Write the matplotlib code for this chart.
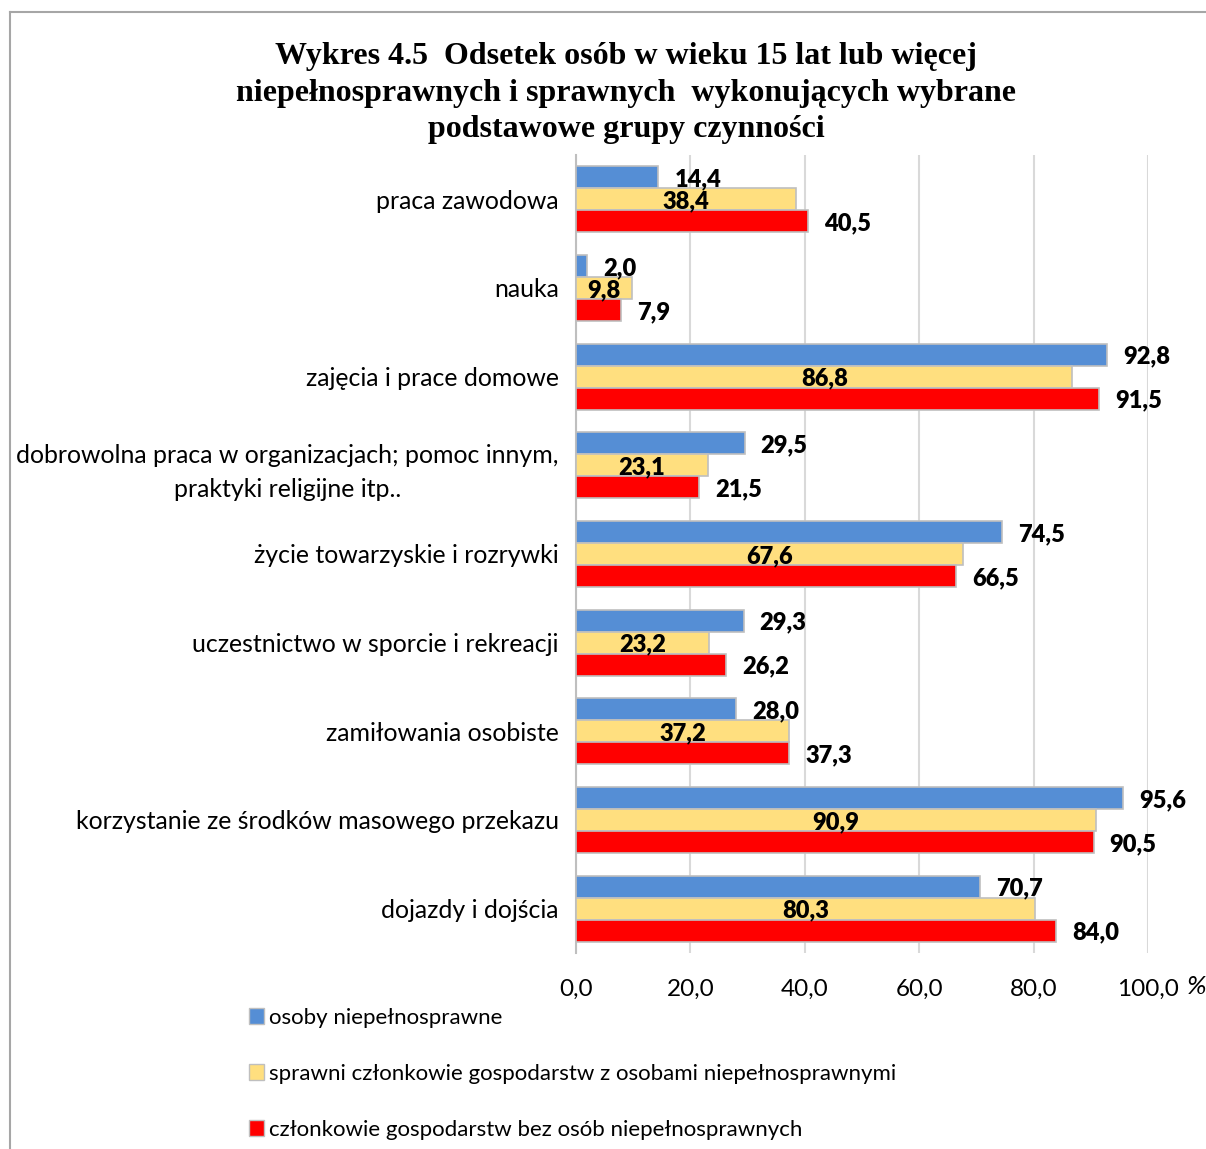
import matplotlib
matplotlib.use("Agg")
import matplotlib.pyplot as plt
import numpy as np
from matplotlib.lines import Line2D
from matplotlib.patches import Patch

categories = [
    "praca zawodowa",
    "nauka",
    "zajęcia i prace domowe",
    "dobrowolna praca w organizacjach; pomoc innym,\npraktyki religijne itp..",
    "życie towarzyskie i rozrywki",
    "uczestnictwo w sporcie i rekreacji",
    "zamiłowania osobiste",
    "korzystanie ze środków masowego przekazu",
    "dojazdy i dojścia",
]
niepelnosprawne = [14.4, 2.0, 92.8, 29.5, 74.5, 29.3, 28.0, 95.6, 70.7]
sprawni = [38.4, 9.8, 86.8, 23.1, 67.6, 23.2, 37.2, 90.9, 80.3]
bez = [40.5, 7.9, 91.5, 21.5, 66.5, 26.2, 37.3, 90.5, 84.0]
series_names = [
    "osoby niepełnosprawne",
    "sprawni członkowie gospodarstw z osobami niepełnosprawnymi",
    "członkowie gospodarstw bez osób niepełnosprawnych",
]
xticks = [0, 20, 40, 60, 80, 100]
xticklabels = ["0,0", "20,0", "40,0", "60,0", "80,0", "100,0"]

colors = ["#558ED5", "#FFDF7F", "#FF0000"]
W, H = 1206, 1149
fig = plt.figure(figsize=(W / 100, H / 100), dpi=100)
sans = "Lato"
ax = fig.add_axes([576 / W, 1 - 953 / H, (1148 - 576) / W, (953 - 155) / H])

y = np.arange(len(categories))
bh = 0.248
data = [niepelnosprawne, sprawni, bez]
offsets = [-bh, 0, bh]
for vals, off, c in zip(data, offsets, colors):
    ax.barh(y + off, vals, height=bh, color=c, edgecolor="#BFBFBF", linewidth=1.2, zorder=3)

def fmt(v):
    return f"{v:.1f}".replace(".", ",")

vfs = 17
for i in range(len(categories)):
    ax.annotate(fmt(niepelnosprawne[i]), (niepelnosprawne[i], y[i] - bh), xytext=(11.5, -1.5),
                textcoords="offset points", ha="left", va="center", fontsize=vfs,
                fontweight="heavy", family=sans, zorder=5)
    ax.annotate(fmt(sprawni[i]), (sprawni[i] / 2, y[i]), xytext=(0, -1.5),
                textcoords="offset points", ha="center", va="center",
                fontsize=vfs, fontweight="heavy", family=sans, zorder=5)
    ax.annotate(fmt(bez[i]), (bez[i], y[i] + bh), xytext=(11.5, -1.5),
                textcoords="offset points", ha="left", va="center", fontsize=vfs,
                fontweight="heavy", family=sans, zorder=5)

ax.set_ylim(len(categories) - 0.5, -0.5)
ax.set_xlim(0, 100)
ax.set_yticks(y)
ax.set_yticklabels(categories, fontsize=17.9, family=sans, ha="right",
                   multialignment="center", linespacing=1.55)
ax.tick_params(axis="y", length=0, pad=12.5)
ax.set_xticks(xticks)
ax.set_xticklabels(xticklabels, fontsize=17.5, family=sans)
ax.tick_params(axis="x", length=0, pad=18.5)
ax.grid(axis="x", color="#D9D9D9", linewidth=1.5, zorder=0)
for s in ["top", "right", "bottom"]:
    ax.spines[s].set_visible(False)
ax.spines["left"].set_color("#BFBFBF")
ax.spines["left"].set_linewidth(1.5)

fig.text(1197 / W, 1 - 987 / H, "%", fontsize=19, style="italic", family=sans,
         ha="center", va="center")

fig.text(626 / W, 1 - 93 / H,
         "Wykres 4.5  Odsetek osób w wieku 15 lat lub więcej\n"
         "niepełnosprawnych i sprawnych  wykonujących wybrane\n"
         "podstawowe grupy czynności",
         ha="center", va="center", fontsize=23, fontweight="bold",
         family="Liberation Serif", linespacing=1.34)

handles = [Patch(facecolor=c, edgecolor="#BFBFBF") for c in colors]
fig.legend(handles, series_names, loc="upper left",
           bbox_to_anchor=(240 / W, 1 - 999 / H), frameon=False,
           prop={"family": sans, "size": 16}, handlelength=0.7, handleheight=0.7,
           handletextpad=0.2, labelspacing=1.62, borderaxespad=0)

fig.add_artist(Line2D([10 / W, 1], [1 - 12 / H, 1 - 12 / H], color="#A6A6A6", linewidth=1.5))
fig.add_artist(Line2D([10 / W, 10 / W], [0, 1 - 12 / H], color="#A6A6A6", linewidth=1.5))

fig.savefig("out.png", dpi=100, facecolor="white")
